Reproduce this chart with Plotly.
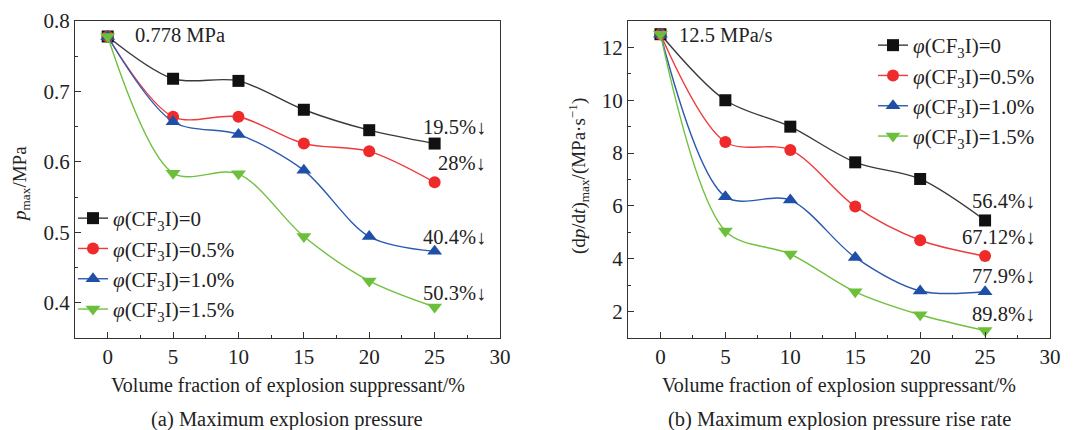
import plotly.graph_objects as go

x = [0, 5, 10, 15, 20, 25]
names = ["<i>φ</i>(CF<sub>3</sub>I)=0", "<i>φ</i>(CF<sub>3</sub>I)=0.5%",
         "<i>φ</i>(CF<sub>3</sub>I)=1.0%", "<i>φ</i>(CF<sub>3</sub>I)=1.5%"]
colors = ["#111111", "#EE2A2A", "#1F4FA6", "#6CBF3A"]
line_colors = ["#3a3a3a", "#EE3A3A", "#2A5AB0", "#72C040"]
symbols = ["square", "circle", "triangle-up", "triangle-down"]

pmax_0 = [0.778, 0.718, 0.715, 0.674, 0.645, 0.626]
pmax_05 = [0.778, 0.664, 0.664, 0.626, 0.615, 0.571]
pmax_10 = [0.778, 0.657, 0.639, 0.588, 0.494, 0.473]
pmax_15 = [0.778, 0.584, 0.583, 0.494, 0.431, 0.394]

rate_0 = [12.5, 10.0, 9.0, 7.65, 7.02, 5.45]
rate_05 = [12.5, 8.42, 8.12, 5.98, 4.70, 4.10]
rate_10 = [12.5, 6.35, 6.22, 4.05, 2.78, 2.75]
rate_15 = [12.5, 5.05, 4.18, 2.75, 1.88, 1.28]

pct_a = ["19.5%↓", "28%↓", "40.4%↓", "50.3%↓"]
pct_a_y = [0.650, 0.599, 0.494, 0.414]
pct_b = ["56.4%↓", "67.12%↓", "77.9%↓", "89.8%↓"]
pct_b_y = [6.17, 4.81, 3.34, 1.91]

FONT = "Liberation Serif"
W, H = 1083, 430
OFF = 8  # page body margin


def fx(px):
    return (px - OFF) / W


def fy(py):
    return 1 - (py - OFF) / H


fig = go.Figure()
for i, ys in enumerate([pmax_0, pmax_05, pmax_10, pmax_15]):
    fig.add_trace(go.Scatter(
        x=x, y=ys, mode="lines+markers", name=names[i],
        line=dict(color=line_colors[i], width=1.4, shape="spline", smoothing=0.9),
        marker=dict(symbol=symbols[i], color=colors[i], size=12 if i < 2 else 13),
        xaxis="x", yaxis="y", legend="legend"))
for i, ys in enumerate([rate_0, rate_05, rate_10, rate_15]):
    fig.add_trace(go.Scatter(
        x=x, y=ys, mode="lines+markers", name=names[i],
        line=dict(color=line_colors[i], width=1.4, shape="spline", smoothing=0.9),
        marker=dict(symbol=symbols[i], color=colors[i], size=12 if i < 2 else 13),
        xaxis="x2", yaxis="y2", legend="legend2"))

axis_common = dict(showline=True, linecolor="#333", linewidth=1.2, mirror=True,
                   ticks="inside", ticklen=6, tickcolor="#333", showgrid=False, zeroline=False,
                   automargin=False,
                   tickfont=dict(family=FONT, size=21, color="#222"))
ydom = [fy(338), fy(21)]
fig.update_layout(
    width=W, height=H, margin=dict(l=0, r=0, t=0, b=0),
    paper_bgcolor="white", plot_bgcolor="white",
    font=dict(family=FONT, size=19, color="#222"),
    xaxis=dict(domain=[fx(75), fx(500)], range=[-2.5, 30], tickvals=[0, 5, 10, 15, 20, 25, 30],
               minor=dict(dtick=2.5, tick0=0, ticks="inside", ticklen=3, tickcolor="#333"),
               anchor="y", **axis_common),
    yaxis=dict(domain=ydom, range=[0.35, 0.8], tickvals=[0.4, 0.5, 0.6, 0.7, 0.8],
               minor=dict(dtick=0.05, tick0=0, ticks="inside", ticklen=3, tickcolor="#333"),
               anchor="x", **axis_common),
    xaxis2=dict(domain=[fx(628), fx(1050)], range=[-2.5, 30], tickvals=[0, 5, 10, 15, 20, 25, 30],
                minor=dict(dtick=2.5, tick0=0, ticks="inside", ticklen=3, tickcolor="#333"),
                anchor="y2", **axis_common),
    yaxis2=dict(domain=ydom, range=[1, 13], tickvals=[2, 4, 6, 8, 10, 12],
                minor=dict(dtick=1, tick0=0, ticks="inside", ticklen=3, tickcolor="#333"),
                anchor="x2", **axis_common),
    legend=dict(x=fx(73), y=fy(198), xanchor="left", yanchor="top",
                bgcolor="rgba(0,0,0,0)", font=dict(family=FONT, size=21, color="#222"),
                tracegroupgap=0, itemwidth=30),
    legend2=dict(x=fx(873), y=fy(25), xanchor="left", yanchor="top",
                 bgcolor="rgba(0,0,0,0)", font=dict(family=FONT, size=21, color="#222"),
                 tracegroupgap=0, itemwidth=30),
    showlegend=True,
)

ann = []
ann.append(dict(x=1.95, y=0.780, xref="x", yref="y", text="0.778 MPa", showarrow=False,
                xanchor="left", yanchor="middle", font=dict(size=20.5)))
ann.append(dict(x=1.25, y=12.47, xref="x2", yref="y2", text="12.5 MPa/s", showarrow=False,
                xanchor="left", yanchor="middle", font=dict(size=20.5)))
for t, yy in zip(pct_a, pct_a_y):
    ann.append(dict(x=29.1, y=yy, xref="x", yref="y", text=t, showarrow=False,
                    xanchor="right", yanchor="middle", font=dict(size=20.5)))
for t, yy in zip(pct_b, pct_b_y):
    ann.append(dict(x=29.0, y=yy, xref="x2", yref="y2", text=t, showarrow=False,
                    xanchor="right", yanchor="middle", font=dict(size=20.5)))
ann.append(dict(x=fx(288), y=fy(385), xref="paper", yref="paper", showarrow=False,
                text="Volume fraction of explosion suppressant/%", font=dict(size=20),
                xanchor="center", yanchor="middle"))
ann.append(dict(x=fx(839), y=fy(385), xref="paper", yref="paper", showarrow=False,
                text="Volume fraction of explosion suppressant/%", font=dict(size=20),
                xanchor="center", yanchor="middle"))
ann.append(dict(x=fx(287), y=fy(419), xref="paper", yref="paper", showarrow=False,
                text="(a) Maximum explosion pressure", font=dict(size=20.5),
                xanchor="center", yanchor="middle"))
ann.append(dict(x=fx(839), y=fy(419), xref="paper", yref="paper", showarrow=False,
                text="(b) Maximum explosion pressure rise rate", font=dict(size=20.5),
                xanchor="center", yanchor="middle"))
ann.append(dict(x=fx(21), y=fy(184), xref="paper", yref="paper", showarrow=False,
                text="<i>p</i><sub>max</sub>/MPa", textangle=-90, font=dict(size=19),
                xanchor="center", yanchor="middle"))
ann.append(dict(x=fx(579), y=fy(176), xref="paper", yref="paper", showarrow=False,
                text="(d<i>p</i>/d<i>t</i>)<sub>max</sub>/(MPa·s<sup>−1</sup>)", textangle=-90,
                font=dict(size=19), xanchor="center", yanchor="middle"))
fig.update_layout(annotations=ann)

fig.write_html("out.html")
